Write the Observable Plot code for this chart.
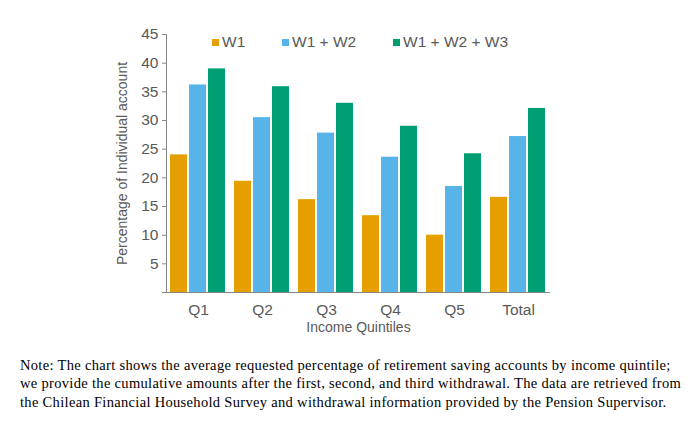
<!DOCTYPE html>
<html><head><meta charset="utf-8">
<script src="https://cdn.jsdelivr.net/npm/d3@7"></script>
<script src="https://cdn.jsdelivr.net/npm/@observablehq/plot@0.6"></script>
<style>
body{margin:0;background:#fff;}
#wrap{position:relative;width:691px;height:424px;font-family:"Liberation Sans",Arial,sans-serif;}
.leg{position:absolute;top:33px;height:18px;font-size:15.5px;color:#595959;display:flex;align-items:center;white-space:nowrap;}
.sw{width:7px;height:7px;margin-right:3px;}
#note{position:absolute;left:20px;top:356px;font-family:"Liberation Serif",serif;font-size:14.5px;letter-spacing:0.32px;line-height:18.3px;color:#000;white-space:nowrap;}
</style></head>
<body><div id="wrap"><div id="chart"></div><div id="legend"></div><div id="note"></div></div>
<script>
const quintiles = ["Q1","Q2","Q3","Q4","Q5","Total"];
const series = ["W1","W1 + W2","W1 + W2 + W3"];
const w1 = [24.0,19.4,16.2,13.4,10.0,16.6];
const w1w2 = [36.2,30.5,27.8,23.6,18.5,27.2];
const w1w2w3 = [39.0,35.9,33.0,29.0,24.2,32.1];
const colors = ["#E69F00","#56B4E9","#009E73"];
const yTicks = [0,5,10,15,20,25,30,35,40,45];
const legendLeft = [212,282,393];
const noteLines = [
 "Note: The chart shows the average requested percentage of retirement saving accounts by income quintile;",
 "we provide the cumulative amounts after the first, second, and third withdrawal. The data are retrieved from",
 "the Chilean Financial Household Survey and withdrawal information provided by the Pension Supervisor."
];

const values = [w1,w1w2,w1w2w3];
const data = [];
quintiles.forEach((q,i)=>series.forEach((s,j)=>data.push({q, s, v: values[j][i]})));

const chart = Plot.plot({
  width:691, height:345, marginTop:34, marginBottom:53, marginLeft:164, marginRight:140,
  style:{fontFamily:"Liberation Sans, Arial, sans-serif", fontSize:"14px", color:"#595959", background:"#fff"},
  fx:{domain:quintiles, padding:0},
  x:{domain:series, paddingInner:0.1, paddingOuter:0.23, axis:null},
  y:{domain:[0,45]},
  color:{domain:series, range:colors},
  marks:[
    Plot.barY(data,{fx:"q", x:"s", y:"v", fill:"s"}),
    Plot.ruleY([0],{stroke:"#868686"}),
    Plot.frame({anchor:"left", facetAnchor:"left", stroke:"#868686"}),
    Plot.axisY({ticks:yTicks, tickSize:4, tickPadding:4, fontSize:15.5, label:null, stroke:"#868686", tickFormat:d=>d===0?"":String(d)}),
    Plot.axisY({ticks:[], label:"Percentage of Individual account", labelAnchor:"center", labelArrow:"none", labelOffset:49, fontSize:14}),
    Plot.axisFx({anchor:"bottom", tickSize:0, tickPadding:11, fontSize:15.5, label:null}),
    Plot.axisFx({anchor:"bottom", ticks:[], label:"Income Quintiles", labelAnchor:"center", labelArrow:"none", labelOffset:39, fontSize:14})
  ]
});
document.getElementById("chart").appendChild(chart);

const leg = document.getElementById("legend");
series.forEach((s,i)=>{
  const d = document.createElement("div");
  d.className="leg"; d.style.left = legendLeft[i]+"px";
  d.innerHTML = `<span class="sw" style="background:${colors[i]}"></span><span>${s}</span>`;
  leg.appendChild(d);
});
document.getElementById("note").innerHTML = noteLines.join("<br>");
</script>
</body></html>
